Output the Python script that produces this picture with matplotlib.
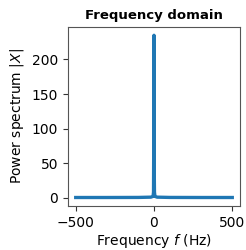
import matplotlib
matplotlib.use("Agg")
import matplotlib.pyplot as plt

# power spectrum (Hz, |X|)
freqs = [-500, -300, -100, -20, -6, -3, -2, -1, 0, 0.5, 1, 2, 3, 6, 20, 100, 300, 500]
power = [0.3, 0.3, 0.4, 0.8, 2, 8, 60, 160, 235, 130, 145, 30, 8, 2, 0.8, 0.4, 0.3, 0.3]

fig = plt.figure(figsize=(2.46, 2.5), dpi=100)
ax = fig.add_axes([0.276, 0.176, 0.7, 0.716])

ax.plot(freqs, power, color="#1f77b4", lw=2.4)

ax.set_title("Frequency domain", fontsize=9.5, fontweight="bold")
ax.set_xlabel("Frequency $f$ (Hz)", fontsize=10, labelpad=2)
ax.set_ylabel("Power spectrum $|X|$", fontsize=10)
ax.set_xticks([-500, 0, 500])
ax.set_yticks([0, 50, 100, 150, 200])
ax.set_xlim(-550, 550)
ax.set_ylim(-12, 247)
ax.tick_params(labelsize=10, color="#333333")
for s in ax.spines.values():
    s.set_color("#555555")

plt.savefig("out.png", dpi=100)
